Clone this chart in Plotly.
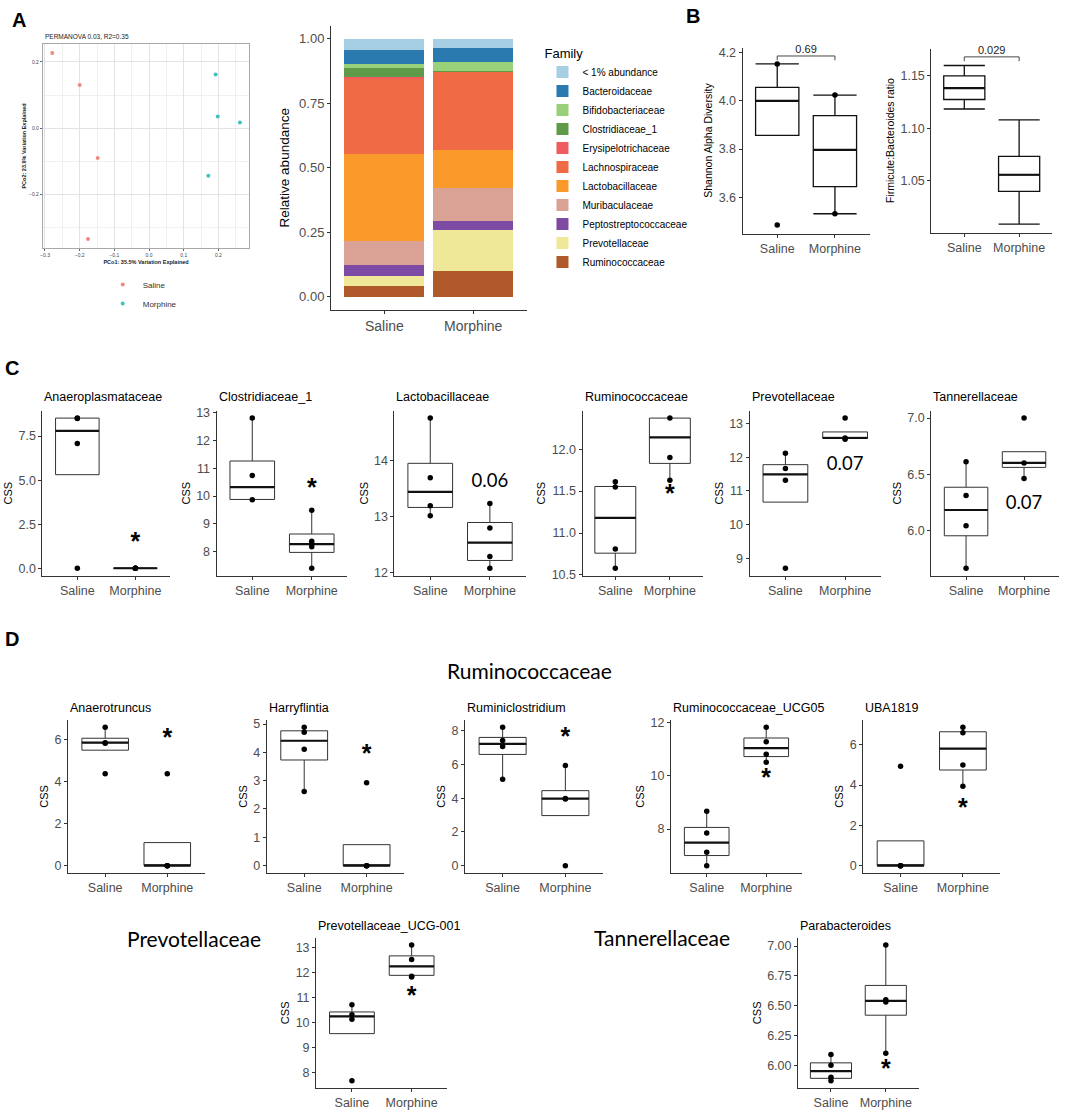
import plotly.graph_objects as go

W, H = 1065, 1114

groups = ["Saline", "Morphine"]
group_pos = [1, 2]

# ---------------- Panel A : PCoA ----------------
pcoa_saline_pc1 = [-0.279, -0.200, -0.148, -0.176]
pcoa_saline_pc2 = [0.227, 0.130, -0.090, -0.334]
pcoa_morphine_pc1 = [0.192, 0.198, 0.262, 0.171]
pcoa_morphine_pc2 = [0.162, 0.035, 0.017, -0.143]

# ---------------- Panel A : relative abundance (stack bottom -> top) -----
families = ["Ruminococcaceae", "Prevotellaceae", "Peptostreptococcaceae", "Muribaculaceae",
            "Lactobacillaceae", "Lachnospiraceae", "Erysipelotrichaceae", "Clostridiaceae_1",
            "Bifidobacteriaceae", "Bacteroidaceae", "< 1% abundance"]
saline_abundance = [0.041, 0.038, 0.046, 0.092, 0.335, 0.295, 0.003, 0.035, 0.018, 0.052, 0.045]
morphine_abundance = [0.100, 0.157, 0.037, 0.126, 0.147, 0.305, 0.002, 0.002, 0.035, 0.053, 0.036]
family_colors = ["#B0592A", "#EEE898", "#7D4BA3", "#D9A295", "#F99A2B", "#EF6A45",
                 "#EE5C60", "#5F9A48", "#99D17A", "#2A7AB0", "#A6CFE4"]

# ---------------- Panel B ----------------
shannon_q1 = [3.857, 3.644]
shannon_median = [4.000, 3.797]
shannon_q3 = [4.056, 3.939]
shannon_lower = [3.857, 3.532]
shannon_upper = [4.153, 4.024]
shannon_saline_points = [4.153, 3.485]
shannon_morphine_points = [4.024, 3.532]
shannon_p = "0.69"
shannon_bracket_y = [4.168, 4.186]

fb_q1 = [1.1275, 1.0397]
fb_median = [1.1384, 1.0556]
fb_q3 = [1.1500, 1.0732]
fb_lower = [1.1184, 1.0084]
fb_upper = [1.1600, 1.1080]
fb_p = "0.029"
fb_bracket_y = [1.1641, 1.1682]

# ---------------- Panel C ----------------
c_titles = ["Anaeroplasmataceae", "Clostridiaceae_1", "Lactobacillaceae",
            "Ruminococcaceae", "Prevotellaceae", "Tannerellaceae"]
c_saline_points = [[8.52, 8.50, 7.08, 0.00], [12.80, 10.74, 9.87], [14.76, 13.69, 13.19, 13.01],
                   [11.61, 11.55, 10.81, 10.58], [12.12, 11.67, 11.32, 8.71], [6.61, 6.31, 6.04, 5.66]]
c_morphine_points = [[0.0, 0.0, 0.0, 0.0], [9.49, 8.38, 8.28, 8.18, 7.41], [13.23, 12.79, 12.28, 12.07],
                     [12.37, 11.90, 11.63], [13.16, 12.57, 12.53], [7.00, 6.60, 6.46]]
c_q1 = [[5.31, 0.0], [9.88, 7.98], [13.16, 12.21], [10.76, 11.83], [10.67, 12.56], [5.95, 6.56]]
c_median = [[7.79, 0.0], [10.32, 8.28], [13.44, 12.53], [11.18, 12.14], [11.49, 12.57], [6.18, 6.60]]
c_q3 = [[8.52, 0.0], [11.26, 8.64], [13.95, 12.89], [11.555, 12.37], [11.78, 12.75], [6.383, 6.70]]
c_lower = [[5.31, 0.0], [9.88, 7.41], [13.01, 12.07], [10.58, 11.63], [10.67, 12.56], [5.66, 6.46]]
c_upper = [[8.52, 0.0], [12.80, 9.49], [14.76, 13.23], [11.61, 12.37], [12.14, 12.75], [6.61, 6.70]]
c_marks = ["*", "*", "0.06", "*", "0.07", "0.07"]
c_mark_y = [1.38, 10.23, 13.60, 11.44, 11.75, 6.23]
c_ticks = [[0, 2.5, 5, 7.5], [8, 9, 10, 11, 12, 13], [12, 13, 14], [10.5, 11, 11.5, 12],
           [9, 10, 11, 12, 13], [6, 6.5, 7]]

# ---------------- Panel D ----------------
d_titles = ["Anaerotruncus", "Harryflintia", "Ruminiclostridium", "Ruminococcaceae_UCG05",
            "UBA1819", "Prevotellaceae_UCG-001", "Parabacteroides"]
d_saline_points = [[6.61, 5.87, 5.84, 4.38], [4.89, 4.71, 4.11, 2.62], [8.22, 7.43, 7.07, 5.12],
                   [8.67, 7.85, 7.12, 6.62], [4.94, 0.0, 0.0, 0.0], [10.71, 10.31, 10.13, 7.66],
                   [6.09, 6.00, 5.90, 5.87]]
d_morphine_points = [[4.38, 0.0, 0.0, 0.0], [2.93, 0.0, 0.0, 0.0], [5.94, 3.96, 3.98, 0.0],
                     [11.84, 11.29, 10.82, 10.52], [6.88, 6.60, 5.00, 3.94], [13.11, 12.53, 11.85, 11.82],
                     [7.01, 6.55, 6.53, 6.10]]
d_q1 = [[5.51, 0.0], [3.73, 0.0], [6.60, 2.97], [7.00, 10.73], [0.0, 4.75], [9.55, 11.89], [5.89, 6.42]]
d_median = [[5.87, 0.0], [4.41, 0.0], [7.23, 3.98], [7.49, 11.05], [0.0, 5.81], [10.24, 12.25], [5.95, 6.54]]
d_q3 = [[6.08, 1.10], [4.76, 0.74], [7.61, 4.45], [8.06, 11.43], [1.23, 6.65], [10.42, 12.67], [6.02, 6.67]]
d_lower = [[5.51, 0.0], [2.62, 0.0], [5.12, 2.97], [6.62, 10.52], [0.0, 3.94], [9.55, 11.82], [5.87, 6.10]]
d_upper = [[6.61, 1.10], [4.89, 0.74], [8.22, 5.94], [8.67, 11.84], [1.23, 6.88], [10.71, 13.11], [6.09, 7.01]]
d_mark_y = [6.01, 3.89, 7.56, 9.86, 2.80, 10.99, 5.955]
d_ticks = [[0, 2, 4, 6], [0, 1, 2, 3, 4, 5], [0, 2, 4, 6, 8], [8, 10, 12], [0, 2, 4, 6],
           [8, 9, 10, 11, 12, 13], [6.0, 6.25, 6.5, 6.75, 7.0]]

# ======================================================================
FONT = "Liberation Sans"
CAL = "Lato"
TICK_GREY = "#4D4D4D"


def pxx(x):
    return x / W


def pyy(y):
    return 1 - y / H


def expand(vals, f=0.05):
    lo, hi = min(vals), max(vals)
    s = hi - lo
    return [lo - f * s, hi + f * s]


fig = go.Figure()
layout = {}
annotations = []
axis_count = [0]


def new_axes():
    axis_count[0] += 1
    n = axis_count[0]
    sfx = "" if n == 1 else str(n)
    return n, "x" + sfx, "y" + sfx, "xaxis" + sfx, "yaxis" + sfx


def box_panel(geom, q1, med, q3, lo, hi, sal_pts, mor_pts, yticks, tickfmt,
              title=None, title_y=None, ytitle="CSS", ytitle_size=11,
              mark=None, mark_y=None, whisk=0.0, lc="#333333", lw=1.0, mw=2.2,
              extra_vals=(), tick_size=12.5, title_size=12.5, title_family=FONT):
    xl, xr, yt, yb = geom
    n, xa, ya, xk, yk = new_axes()
    fig.add_trace(go.Box(x=group_pos, q1=q1, median=med, q3=q3, lowerfence=lo, upperfence=hi,
                         orientation="v", width=0.75, whiskerwidth=whisk,
                         fillcolor="rgba(255,255,255,0)", line=dict(color=lc, width=lw),
                         boxpoints=False, xaxis=xa, yaxis=ya, showlegend=False, hoverinfo="skip"))
    fig.add_trace(go.Box(x=group_pos, q1=med, median=med, q3=med, lowerfence=med, upperfence=med,
                         orientation="v", width=0.75, whiskerwidth=0,
                         fillcolor="rgba(0,0,0,0)", line=dict(color="#111111", width=mw),
                         boxpoints=False, xaxis=xa, yaxis=ya, showlegend=False, hoverinfo="skip"))
    if sal_pts or mor_pts:
        fig.add_trace(go.Scatter(x=[group_pos[0]] * len(sal_pts) + [group_pos[1]] * len(mor_pts),
                                 y=list(sal_pts) + list(mor_pts), mode="markers",
                                 marker=dict(color="black", size=5.5), cliponaxis=False,
                                 xaxis=xa, yaxis=ya, showlegend=False, hoverinfo="skip"))
    if mark is not None:
        if mark == "*":
            tf = dict(family=FONT, size=25, color="black", weight="bold")
        else:
            tf = dict(family=CAL, size=18.5, color="black")
        fig.add_trace(go.Scatter(x=[group_pos[1]], y=[mark_y], mode="text", text=[mark],
                                 textfont=tf, textposition="middle center", cliponaxis=False,
                                 xaxis=xa, yaxis=ya, showlegend=False, hoverinfo="skip"))
    allv = list(lo) + list(hi) + list(sal_pts) + list(mor_pts) + list(extra_vals)
    yr = expand(allv)
    layout[xk] = dict(domain=[pxx(xl), pxx(xr)], anchor=ya, range=[0.4, 2.6],
                      tickvals=group_pos, ticktext=groups, showline=True, linecolor="#333333",
                      linewidth=1.1, ticks="outside", ticklen=3, tickcolor="#333333",
                      tickfont=dict(family=FONT, size=tick_size, color=TICK_GREY),
                      showgrid=False, zeroline=False, fixedrange=True)
    layout[yk] = dict(domain=[pyy(yb), pyy(yt)], anchor=xa, range=yr, tickvals=yticks,
                      tickformat=tickfmt, showline=True, linecolor="#333333", linewidth=1.1,
                      ticks="outside", ticklen=3, tickcolor="#333333",
                      tickfont=dict(family=FONT, size=tick_size, color=TICK_GREY),
                      title=dict(text=ytitle, font=dict(family=FONT, size=ytitle_size, color="black"),
                                 standoff=3),
                      showgrid=False, zeroline=False, fixedrange=True)
    if title:
        annotations.append(dict(text=title, x=pxx(xl), y=pyy(title_y), xref="paper", yref="paper",
                                xanchor="left", yanchor="middle", showarrow=False,
                                font=dict(family=title_family, size=title_size, color="black")))
    return xa, ya


# ---------------- PCoA ----------------
n, xa, ya, xk, yk = new_axes()
fig.add_trace(go.Scatter(x=pcoa_saline_pc1, y=pcoa_saline_pc2, mode="markers", name="Saline",
                         marker=dict(color="#F08A80", size=4), xaxis=xa, yaxis=ya, legend="legend2"))
fig.add_trace(go.Scatter(x=pcoa_morphine_pc1, y=pcoa_morphine_pc2, mode="markers", name="Morphine",
                         marker=dict(color="#3EC3BE", size=4), xaxis=xa, yaxis=ya, legend="legend2"))
pc_common = dict(showline=True, mirror=True, linecolor="#A8A8A8", linewidth=1, ticks="outside",
                 ticklen=2, tickcolor="#666666", tickfont=dict(family=FONT, size=5, color="#444444"),
                 showgrid=True, gridcolor="#E3E3E3", gridwidth=0.8, zeroline=False, fixedrange=True,
                 tickformat=".1f")
layout[xk] = dict(domain=[pxx(40), pxx(247)], anchor=ya,
                  range=expand(pcoa_saline_pc1 + pcoa_morphine_pc1), dtick=0.1, tick0=0,
                  minor=dict(dtick=0.05, tick0=0, showgrid=True, gridcolor="#F0F0F0", gridwidth=0.6),
                  title=dict(text="<b>PCo1: 35.5% Variation Explained</b>",
                             font=dict(family=FONT, size=5.5, color="#222222"), standoff=2),
                  **pc_common)
layout[yk] = dict(domain=[pyy(246), pyy(39)], anchor=xa,
                  range=expand(pcoa_saline_pc2 + pcoa_morphine_pc2), dtick=0.2, tick0=0,
                  minor=dict(dtick=0.1, tick0=0, showgrid=True, gridcolor="#F0F0F0", gridwidth=0.6),
                  title=dict(text="<b>PCo2: 23.9% Variation Explained</b>",
                             font=dict(family=FONT, size=5.5, color="#222222"), standoff=2),
                  **pc_common)
annotations.append(dict(text="PERMANOVA 0.03, R2=0.35", x=pxx(40), y=pyy(32), xref="paper",
                        yref="paper", xanchor="left", yanchor="middle", showarrow=False,
                        font=dict(family=FONT, size=6.5, color="#222222")))

# ---------------- Stacked bars ----------------
n, xa, ya, xk, yk = new_axes()
for fam, s, m, col in zip(families, saline_abundance, morphine_abundance, family_colors):
    fig.add_trace(go.Bar(x=groups, y=[s, m], name=fam, marker=dict(color=col, line=dict(width=0)),
                         width=0.9, xaxis=xa, yaxis=ya, legend="legend", legendgroup=fam,
                         hoverinfo="skip"))
layout[xk] = dict(domain=[pxx(329), pxx(525)], anchor=ya, range=[-0.6, 1.6], type="category",
                  showline=True, linecolor="#333333", linewidth=1.1, ticks="outside", ticklen=3,
                  tickcolor="#333333", tickfont=dict(family=FONT, size=14, color=TICK_GREY),
                  showgrid=False, zeroline=False, fixedrange=True)
layout[yk] = dict(domain=[pyy(308), pyy(21)], anchor=xa, range=[-0.05, 1.05],
                  tickvals=[0, 0.25, 0.5, 0.75, 1.0], tickformat=".2f", showline=True,
                  linecolor="#333333", linewidth=1.1, ticks="outside", ticklen=3, tickcolor="#333333",
                  tickfont=dict(family=FONT, size=13, color=TICK_GREY),
                  title=dict(text="Relative abundance", font=dict(family=FONT, size=13.5, color="black"),
                             standoff=6),
                  showgrid=False, zeroline=False, fixedrange=True)

# ---------------- Panel B ----------------
xa, ya = box_panel((741.7, 869, 43, 231), shannon_q1, shannon_median, shannon_q3, shannon_lower,
                   shannon_upper, shannon_saline_points, shannon_morphine_points,
                   [3.6, 3.8, 4.0, 4.2], ".1f", ytitle="Shannon Alpha Diversity", ytitle_size=10.5,
                   whisk=1.0, lc="#111111", lw=1.3, mw=2.2, extra_vals=shannon_bracket_y)
fig.add_trace(go.Scatter(x=[1, 1, 2, 2], y=[shannon_bracket_y[0], shannon_bracket_y[1],
                                            shannon_bracket_y[1], shannon_bracket_y[0]],
                         mode="lines", line=dict(color="#333333", width=0.9), xaxis=xa, yaxis=ya,
                         showlegend=False, hoverinfo="skip", cliponaxis=False))
fig.add_trace(go.Scatter(x=[1.5], y=[shannon_bracket_y[1]], mode="text", text=[shannon_p],
                         textposition="top center", textfont=dict(family=FONT, size=11, color="#222222"),
                         xaxis=xa, yaxis=ya, showlegend=False, hoverinfo="skip", cliponaxis=False))

xa, ya = box_panel((931, 1052, 44, 230), fb_q1, fb_median, fb_q3, fb_lower, fb_upper, [], [],
                   [1.05, 1.10, 1.15], ".2f", ytitle="Firmicute:Bacteroides ratio", ytitle_size=10.5,
                   whisk=1.0, lc="#111111", lw=1.3, mw=2.2, extra_vals=fb_bracket_y)
fig.add_trace(go.Scatter(x=[1, 1, 2, 2], y=[fb_bracket_y[0], fb_bracket_y[1], fb_bracket_y[1],
                                            fb_bracket_y[0]],
                         mode="lines", line=dict(color="#333333", width=0.9), xaxis=xa, yaxis=ya,
                         showlegend=False, hoverinfo="skip", cliponaxis=False))
fig.add_trace(go.Scatter(x=[1.5], y=[fb_bracket_y[1]], mode="text", text=[fb_p],
                         textposition="top center", textfont=dict(family=FONT, size=11, color="#222222"),
                         xaxis=xa, yaxis=ya, showlegend=False, hoverinfo="skip", cliponaxis=False))

# ---------------- Panel C ----------------
c_geom = [(39.6, 167.7), (214.2, 345.4), (392.6, 524.1), (581.2, 701.6), (748.7, 880.4), (930.9, 1058.8)]
c_fmt = [".1f", "", "", ".1f", "", ".1f"]
for i in range(6):
    box_panel((c_geom[i][0], c_geom[i][1], 410, 577), c_q1[i], c_median[i], c_q3[i], c_lower[i],
              c_upper[i], c_saline_points[i], c_morphine_points[i], c_ticks[i], c_fmt[i],
              title=c_titles[i], title_y=396.5, mark=c_marks[i], mark_y=c_mark_y[i])

# ---------------- Panel D ----------------
d_geom = [(65.1, 202.1, 723, 877), (264.5, 402.2, 723, 877), (463.3, 601.7, 723, 877),
          (669.9, 801.2, 723, 877), (862.6, 1000.1, 723, 877),
          (314, 445.7, 943.3, 1094.3), (797.3, 918.3, 943.3, 1094.3)]
d_title_y = [711, 711, 711, 711, 711, 931, 931.5]
d_fmt = ["", "", "", "", "", "", ".2f"]
for i in range(7):
    box_panel(d_geom[i], d_q1[i], d_median[i], d_q3[i], d_lower[i], d_upper[i],
              d_saline_points[i], d_morphine_points[i], d_ticks[i], d_fmt[i],
              title=d_titles[i], title_y=d_title_y[i], mark="*", mark_y=d_mark_y[i])

# ---------------- Labels ----------------
for txt, x, y in [("A", 15.7, 15), ("B", 692, 11), ("C", 8.6, 366.5), ("D", 8.6, 641)]:
    annotations.append(dict(text="<b>%s</b>" % txt, x=pxx(x), y=pyy(y), xref="paper", yref="paper",
                            xanchor="center", yanchor="middle", showarrow=False,
                            font=dict(family=FONT, size=20, color="black")))
for txt, x, y in [("Ruminococcaceae", 528, 673), ("Prevotellaceae", 192, 944), ("Tannerellaceae", 661, 943)]:
    annotations.append(dict(text=txt, x=pxx(x), y=pyy(y), xref="paper", yref="paper",
                            xanchor="center", yanchor="middle", showarrow=False,
                            font=dict(family=CAL, size=21, color="black")))

fig.update_layout(
    width=W, height=H, margin=dict(l=0, r=0, t=0, b=0),
    paper_bgcolor="white", plot_bgcolor="white",
    font=dict(family=FONT),
    barmode="stack", boxmode="overlay",
    annotations=annotations,
    legend=dict(x=pxx(541), y=pyy(36), xanchor="left", yanchor="top", traceorder="reversed",
                title=dict(text="Family", font=dict(family=FONT, size=13, color="black")),
                font=dict(family=FONT, size=10, color="black"), tracegroupgap=3,
                bgcolor="rgba(0,0,0,0)", itemclick=False, itemdoubleclick=False),
    legend2=dict(x=pxx(100), y=pyy(268), xanchor="left", yanchor="top", itemwidth=30,
                 font=dict(family=FONT, size=8, color="#333333"), bgcolor="rgba(0,0,0,0)",
                 itemclick=False, itemdoubleclick=False, tracegroupgap=0),
    **layout
)

fig.write_html("out.html", config={"displayModeBar": False},
               post_script="document.body.style.margin='0';")
